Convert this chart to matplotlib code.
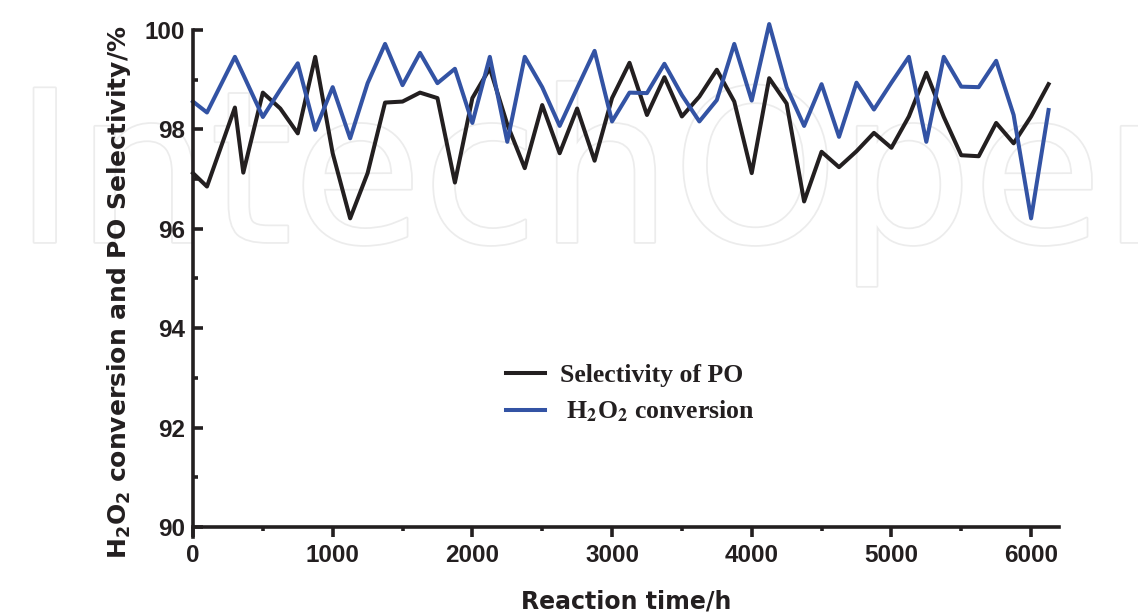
import matplotlib
matplotlib.use("Agg")
import matplotlib.pyplot as plt
import matplotlib.patheffects as pe
from matplotlib.font_manager import FontProperties
from matplotlib.ticker import MultipleLocator

plt.rcParams['font.family'] = ['Liberation Sans', 'DejaVu Sans']
plt.rcParams['mathtext.fontset'] = 'custom'
plt.rcParams['mathtext.rm'] = 'DejaVu Sans:bold'
plt.rcParams['mathtext.bf'] = 'DejaVu Sans:bold'

# reaction time (h)
time_h = [0, 100, 300, 360, 500, 625, 750, 875, 1000, 1125, 1250, 1375, 1500,
          1625, 1750, 1875, 2000, 2125, 2250, 2375, 2500, 2625, 2750, 2875,
          3000, 3125, 3250, 3375, 3500, 3625, 3750, 3875, 4000, 4125, 4250,
          4375, 4500, 4625, 4750, 4875, 5000, 5125, 5250, 5375, 5500, 5625,
          5750, 5875, 6000, 6125]

# selectivity of PO (%)
sel_po = [97.12, 96.85, 98.44, 97.13, 98.74, 98.42, 97.92, 99.46, 97.52, 96.21,
          97.12, 98.54, 98.56, 98.74, 98.63, 96.93, 98.63, 99.23, 98.10, 97.22,
          98.49, 97.52, 98.42, 97.37, 98.63, 99.34, 98.29, 99.05, 98.26, 98.66,
          99.20, 98.56, 97.12, 99.03, 98.52, 96.55, 97.55, 97.24, 97.56, 97.93,
          97.63, 98.26, 99.14, 98.25, 97.48, 97.46, 98.13, 97.72, 98.26, 98.91]

# H2O2 conversion (%)
h2o2_conv = [98.56, 98.34, 99.46, 99.10, 98.25, 98.80, 99.33, 97.99, 98.85, 97.82,
             98.93, 99.72, 98.89, 99.54, 98.93, 99.22, 98.13, 99.46, 97.75, 99.46,
             98.85, 98.07, 98.83, 99.58, 98.16, 98.74, 98.73, 99.32, 98.69, 98.16,
             98.59, 99.72, 98.58, 100.12, 98.85, 98.07, 98.91, 97.85, 98.94, 98.40,
             98.94, 99.46, 97.75, 99.46, 98.86, 98.85, 99.38, 98.29, 96.21, 98.39]

fig = plt.figure(figsize=(11.38, 6.16), dpi=100)

# faint watermark behind the plot
fig.text(0.012, 0.607, 'IntechOpen', fontsize=152, color='white', family='DejaVu Sans',
         ha='left', va='baseline', zorder=-5,
         path_effects=[pe.withStroke(linewidth=2.5, foreground='#ececec')])

ax = fig.add_axes([0.1696, 0.1445, 0.7610, 0.8068])
ax.patch.set_visible(False)

ax.plot(time_h, sel_po, color='#231f20', lw=2.9, clip_on=False, label='Selectivity of PO')
ax.plot(time_h, h2o2_conv, color='#3353a4', lw=2.9, clip_on=False,
        label=r' H$_\mathbf{2}$O$_\mathbf{2}$ conversion')

ax.set_xlim(0, 6200)
ax.set_ylim(90, 100)

for s in ['top', 'right']:
    ax.spines[s].set_visible(False)
for s in ['left', 'bottom']:
    ax.spines[s].set_linewidth(2.6)
    ax.spines[s].set_color('#231f20')
ax.spines['left'].set_bounds(89.8, 100)

ax.xaxis.set_major_locator(MultipleLocator(1000))
ax.xaxis.set_minor_locator(MultipleLocator(500))
ax.yaxis.set_major_locator(MultipleLocator(2))
ax.yaxis.set_minor_locator(MultipleLocator(1))

ax.tick_params(axis='x', which='major', direction='out', length=7, width=2.6,
               color='#231f20', labelsize=17.5, pad=5)
ax.tick_params(axis='x', which='minor', direction='out', length=3, width=2.6, color='#231f20')
ax.tick_params(axis='y', which='major', direction='in', length=7, width=2.6,
               color='#231f20', labelsize=17.5, pad=6)
ax.tick_params(axis='y', which='minor', direction='in', length=3.5, width=2.6, color='#231f20')
for lab in ax.get_xticklabels() + ax.get_yticklabels():
    lab.set_fontweight('bold')
    lab.set_color('#231f20')

ax.set_xlabel('Reaction time/h', fontsize=17, fontweight='bold', color='#231f20',
              family='DejaVu Sans')
ax.xaxis.set_label_coords(0.5, -0.125)

fig.text(0.105, 0.525, r'H$_{2}$O$_{2}$ conversion and PO Selectivity/%', rotation=90,
         fontsize=18, fontweight='bold', color='#231f20', ha='center', va='center',
         family='DejaVu Sans')

leg_font = FontProperties(family='Liberation Serif', weight='bold', size=18.5,
                          math_fontfamily='stix')
leg = ax.legend(loc='upper left', bbox_to_anchor=(0.335, 0.374), frameon=False,
                prop=leg_font, handlelength=1.5, handletextpad=0.6, labelspacing=0.45)
for t in leg.get_texts():
    t.set_color('#231f20')

fig.savefig('out.png', dpi=100)
